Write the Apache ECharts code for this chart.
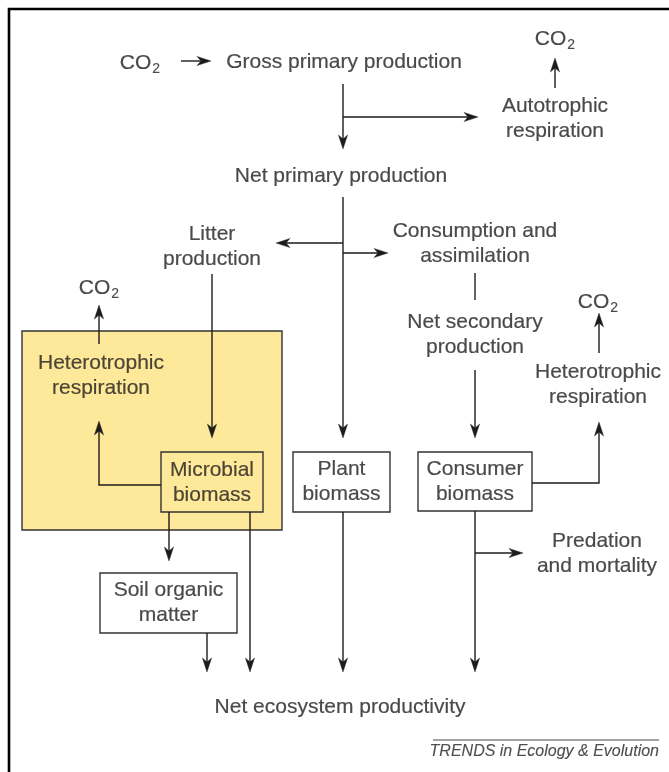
<!DOCTYPE html>
<html><head><meta charset="utf-8">
<script src="https://cdn.jsdelivr.net/npm/echarts@6/dist/echarts.min.js"></script>
<style>html,body{margin:0;padding:0;background:#fff}#chart{width:669px;height:772px}</style>
</head><body><div id="chart"></div>
<script>
// ---- diagram content ----
const labels = [
  'CO{sub|2}', 'Gross primary production', 'CO{sub|2}', 'Autotrophic\nrespiration',
  'Net primary production', 'Litter\nproduction', 'Consumption and\nassimilation',
  'CO{sub|2}', 'Heterotrophic\nrespiration', 'Net secondary\nproduction', 'CO{sub|2}',
  'Heterotrophic\nrespiration', 'Microbial\nbiomass', 'Plant\nbiomass', 'Consumer\nbiomass',
  'Soil organic\nmatter', 'Predation\nand mortality', 'Net ecosystem productivity'
];
const footerText = 'TRENDS in Ecology & Evolution';

// ---- layout (diagram coordinates, 1 unit = 1 px) ----
const labelPos = [
  [140, 63], [344, 62], [555, 39], [555, 118.5],
  [341, 176], [212, 246.5], [475, 244],
  [99, 288], [101, 375.5], [475, 335], [598, 302],
  [598, 384.5], [212, 483], [341.5, 482], [475, 481.5],
  [168.5, 602.5], [597, 554], [340, 707]
];
const boxRects = [
  [22, 331, 282, 530],   // heterotrophic (soil) compartment
  [161, 452, 263, 512],  // microbial biomass
  [293, 452, 390, 512],  // plant biomass
  [418, 452, 532, 511],  // consumer biomass
  [100, 573, 237, 633]   // soil organic matter
];
const boxFill = ['#fee99a', '#fee99a', '#ffffff', '#ffffff', '#ffffff'];
const arrowPaths = [
  [[181, 61], [211, 61]],
  [[343, 84], [343, 149]],
  [[343, 117], [478, 117]],
  [[555, 88], [555, 58]],
  [[343, 197], [343, 438]],
  [[343, 243], [276, 243]],
  [[343, 253], [388, 253]],
  [[212, 274], [212, 438]],
  [[161, 485], [99, 485], [99, 421]],
  [[99, 344], [99, 305]],
  [[169, 512], [169, 561]],
  [[250, 512], [250, 672]],
  [[207, 633], [207, 672]],
  [[343, 512], [343, 672]],
  [[475, 370], [475, 438]],
  [[475, 511], [475, 672]],
  [[475, 553], [523, 553]],
  [[532, 483], [599, 483], [599, 422]],
  [[599, 353], [599, 313]]
];
const plainPaths = [
  [[475, 273], [475, 300]],
  [[9, 772], [9, 9], [669, 9]],       // frame
  [[433, 740], [659, 740]]            // footer rule
];
const plainWidth = [1.4, 2.6, 1];
const plainColor = ['#231f20', '#000000', '#444444'];

const INK = '#1f1b1c';
const FONT = '"Liberation Sans", Arial, Helvetica, sans-serif';

const chart = echarts.init(document.getElementById('chart'), null, {renderer: 'canvas'});

function renderBox(params, api) {
  const r = boxRects[params.dataIndex];
  const p1 = api.coord([r[0], r[1]]), p2 = api.coord([r[2], r[3]]);
  return {
    type: 'rect',
    shape: {x: p1[0], y: p1[1], width: p2[0] - p1[0], height: p2[1] - p1[1]},
    style: {fill: boxFill[params.dataIndex], stroke: '#333333', lineWidth: 1.4}
  };
}
function renderArrow(params, api) {
  const pts = arrowPaths[params.dataIndex].map(p => api.coord(p));
  const n = pts.length, tip = pts[n - 1], prev = pts[n - 2];
  const dx = tip[0] - prev[0], dy = tip[1] - prev[1], len = Math.hypot(dx, dy);
  const ux = dx / len, uy = dy / len, px = -uy, py = ux;
  const L = 14, W = 4.6, N = 10;
  const back = [tip[0] - ux * L, tip[1] - uy * L];
  const notch = [tip[0] - ux * N, tip[1] - uy * N];
  const head = [tip, [back[0] + px * W, back[1] + py * W], notch, [back[0] - px * W, back[1] - py * W]];
  const linePts = pts.slice(0, n - 1).concat([notch]);
  return {
    type: 'group',
    children: [
      {type: 'polyline', shape: {points: linePts}, style: {stroke: INK, lineWidth: 1.4, fill: null}},
      {type: 'polygon', shape: {points: head}, style: {fill: INK, stroke: INK, lineWidth: 0.4}}
    ]
  };
}
function renderPlain(params, api) {
  const i = params.dataIndex;
  return {
    type: 'polyline',
    shape: {points: plainPaths[i].map(p => api.coord(p))},
    style: {stroke: plainColor[i], lineWidth: plainWidth[i], fill: null}
  };
}

chart.setOption({
  animation: false,
  backgroundColor: '#ffffff',
  grid: {left: 0, right: 0, top: 0, bottom: 0},
  xAxis: {type: 'value', min: 0, max: 669, show: false},
  yAxis: {type: 'value', min: 0, max: 772, inverse: true, show: false},
  series: [
    {type: 'custom', renderItem: renderBox, data: boxRects.map(r => [r[0], r[1]]), silent: true, z: 1, clip: false},
    {type: 'custom', renderItem: renderPlain, data: plainPaths.map(p => p[0]), silent: true, z: 2, clip: false},
    {type: 'custom', renderItem: renderArrow, data: arrowPaths.map(p => p[0]), silent: true, z: 3, clip: false},
    {
      type: 'scatter', symbolSize: 0, silent: true, z: 4,
      data: labelPos.map((p, i) => ({value: p, name: labels[i]})),
      label: {
        show: true, position: 'inside', formatter: p => p.name,
        fontFamily: FONT, fontSize: 21, color: INK, lineHeight: 25, align: 'center',
        textBorderColor: INK, textBorderWidth: 0.2,
        rich: {sub: {fontFamily: FONT, fontSize: 14, color: INK, textBorderColor: INK, textBorderWidth: 0.15, padding: [12, 0, 0, 1]}}
      }
    },
    {
      type: 'scatter', symbolSize: 0, silent: true, z: 4,
      data: [{value: [659, 752], name: footerText}],
      label: {
        show: true, position: 'left', distance: 0, formatter: p => p.name,
        fontFamily: FONT, fontSize: 16, fontStyle: 'italic', color: '#222222',
        textBorderColor: '#222222', textBorderWidth: 0.1
      }
    }
  ]
});
</script>
</body></html>
